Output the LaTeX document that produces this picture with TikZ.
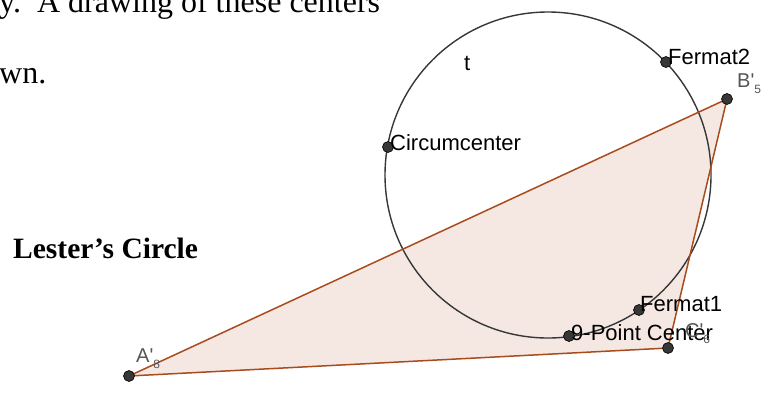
\documentclass[tikz,border=0pt]{standalone}
\usepackage{fontspec}
\setmainfont{Liberation Serif}
\newfontfamily\ggb{Liberation Sans}
\definecolor{polyedge}{RGB}{170,75,30}
\definecolor{polyfill}{RGB}{245,232,227}
\definecolor{ptgray}{RGB}{55,55,55}
\definecolor{lblgray}{RGB}{85,85,85}
\newcommand{\vsub}[1]{\raisebox{-6pt}{\fontsize{12}{12}\selectfont #1}}
\tikzset{
  ggblbl/.style={anchor=base west,inner sep=0pt,font=\ggb\fontsize{22}{22}\selectfont},
  vtxlbl/.style={anchor=base west,inner sep=0pt,text=lblgray,font=\ggb\fontsize{20}{20}\selectfont},
  bodytxt/.style={anchor=base west,inner sep=0pt,font=\fontsize{32}{32}\selectfont},
  dot/.style={fill=ptgray,draw=black,line width=0.6pt}
}
\begin{document}
\begin{tikzpicture}[x=1pt,y=-1pt]
\useasboundingbox (0,0) rectangle (765,392);
\coordinate (A) at (129,376);
\coordinate (B) at (727,99);
\coordinate (C) at (668,348);
\coordinate (O) at (548,175);
\coordinate (Circ) at (388,147);
\coordinate (Fer2) at (666,62);
\coordinate (Fer1) at (639,310);
\coordinate (Nine) at (569,336);
\fill[polyfill] (A)--(B)--(C)--cycle;
\draw[ptgray,line width=1.4pt] (O) circle[radius=163pt];
\draw[polyedge,line width=1.5pt,line join=round] (A)--(B)--(C)--cycle;
\foreach \p in {A,B,C,Circ,Fer1,Fer2,Nine}
  \draw[dot] (\p) circle[radius=5.5pt];
\node[bodytxt] (line1) at (-1,12) {y.\ \ A drawing of these centers};
\node[bodytxt] (line2) at (-1,83) {wn.};
\node[bodytxt,font=\bfseries\fontsize{29.5}{29.5}\selectfont] (title) at (13,258) {Lester’s Circle};
\node[ggblbl] (tlbl) at (464,70) {t};
\node[ggblbl] (circlbl) at (390,150) {Circumcenter};
\node[ggblbl] (fer2lbl) at (668,64) {Fermat2};
\node[ggblbl] (fer1lbl) at (640,311) {Fermat1};
\node[ggblbl] (ninelbl) at (571,340) {9-Point Center};
\node[vtxlbl] (albl) at (136,362) {A'\vsub{8}};
\node[vtxlbl] (blbl) at (737,87) {B'\vsub{5}};
\node[vtxlbl] (clbl) at (685,337) {C'\vsub{6}};
\end{tikzpicture}
\end{document}
